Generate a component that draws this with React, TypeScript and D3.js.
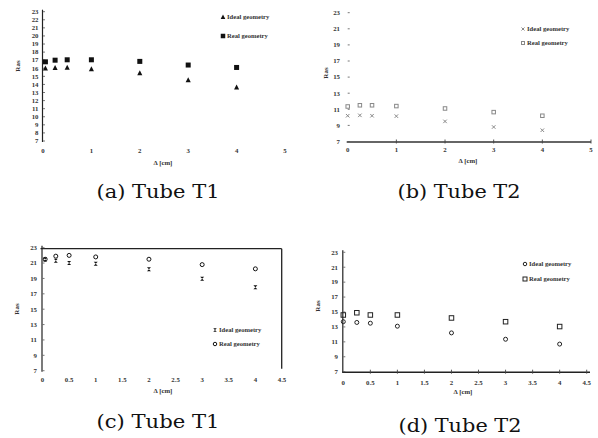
import React from "react";
import * as d3 from "d3";

const W = 598;
const H = 438;

// ---- data ----
const xA = [0.05, 0.25, 0.5, 1, 2, 3, 4];
const aIdeal = [16.0, 16.05, 16.1, 15.9, 15.4, 14.55, 13.65];
const aReal = [16.8, 17.0, 17.05, 17.05, 16.85, 16.4, 16.1];

const xB = [0, 0.25, 0.5, 1, 2, 3, 4];
const bIdeal = [10.2, 10.25, 10.2, 10.15, 9.5, 8.8, 8.4];
const bReal = [11.35, 11.5, 11.5, 11.4, 11.1, 10.65, 10.2];

const xC = [0.05, 0.25, 0.5, 1, 2, 3, 4];
const cIdeal = [21.45, 21.3, 21.0, 20.9, 20.2, 18.95, 17.85];
const cReal = [21.5, 21.9, 22.0, 21.8, 21.5, 20.8, 20.25];

const xD = [0, 0.25, 0.5, 1, 2, 3, 4];
const dIdeal = [13.7, 13.6, 13.5, 13.1, 12.2, 11.35, 10.7];
const dReal = [14.6, 14.9, 14.6, 14.6, 14.2, 13.7, 13.05];

const yTicksAll = [7, 8, 9, 10, 11, 12, 13, 14, 15, 16, 17, 18, 19, 20, 21, 22, 23];
const yTicksOdd = [7, 9, 11, 13, 15, 17, 19, 21, 23];
const xTicksInt = [0, 1, 2, 3, 4, 5];
const xTicksHalf = [0, 0.5, 1, 1.5, 2, 2.5, 3, 3.5, 4, 4.5];

const legendIdeal = "Ideal geometry";
const legendReal = "Real geometry";
const yTitle = "Ras";
const xTitle = "Δ [cm]";
const captions = ["(a) Tube T1", "(b) Tube T2", "(c) Tube T1", "(d) Tube T2"];

const tickFont = "Liberation Serif";
const ink = "#333";

type MarkerKind = "sqFill" | "triFill" | "sqHollow" | "circle" | "hourglass" | "cross";

function Marker({ kind, x, y, color = "#111", s = 5 }: { kind: MarkerKind; x: number; y: number; color?: string; s?: number }) {
  const h = s / 2;
  switch (kind) {
    case "sqFill":
      return <rect x={x - h} y={y - h} width={s} height={s} fill={color} />;
    case "triFill":
      return <path d={`M${x},${y - h - 0.5}L${x + h + 0.3},${y + h}L${x - h - 0.3},${y + h}Z`} fill={color} />;
    case "sqHollow":
      return <rect x={x - h} y={y - h} width={s} height={s} fill="none" stroke={color} strokeWidth={1} />;
    case "circle":
      return <circle cx={x} cy={y} r={h} fill="none" stroke={color} strokeWidth={1} />;
    case "hourglass":
      return <path d={`M${x - h},${y - h}L${x + h},${y - h}L${x - h},${y + h}L${x + h},${y + h}Z`} fill={color} />;
    case "cross":
      return (
        <g stroke={color} strokeWidth={1}>
          <line x1={x - h} y1={y - h} x2={x + h} y2={y + h} />
          <line x1={x - h} y1={y + h} x2={x + h} y2={y - h} />
        </g>
      );
  }
  return null;
}

type PanelCfg = {
  xDomain: [number, number];
  xRange: [number, number];
  yRange: [number, number];
  xTicks: number[];
  yTicks: number[];
  xs: number[];
  ideal: number[];
  real: number[];
  idealKind: MarkerKind;
  realKind: MarkerKind;
  markColor: string;
  idealSize: number;
  realSize: number;
  yLabelX: number;
  xLabelY: number;
  yTitlePos: [number, number];
  xTitlePos: [number, number];
  legendPos: [number, number];
  legendGap: number;
  legendOrder: "idealFirst";
  showYAxis: boolean;
  showXAxis: boolean;
  xAxisWidth: number;
  xAxisColor: string;
  xAxisEnd?: number;
  box?: boolean;
  caption: string;
  captionPos: [number, number];
};

function Panel({ c }: { c: PanelCfg }) {
  const x = d3.scaleLinear().domain(c.xDomain).range(c.xRange);
  const y = d3.scaleLinear().domain([7, 23]).range(c.yRange);
  const x0 = x(0);
  const yBottom = y(7);
  const yTop = y(23);
  const xEnd = c.xAxisEnd ?? x(c.xDomain[1]);
  return (
    <g>
      {c.box && (
        <g stroke="#222" strokeWidth={1.3} fill="none">
          <line x1={x0 - 2} y1={yTop + 1} x2={xEnd} y2={yTop + 1} />
          <line x1={xEnd} y1={yTop + 1} x2={xEnd} y2={yBottom - 2} />
        </g>
      )}
      {c.showYAxis && <line x1={x0 - 0.5} y1={yTop - 2} x2={x0 - 0.5} y2={yBottom + 1} stroke="#222" strokeWidth={1.2} />}
      {c.showXAxis && (
        <line x1={x0 - 1} y1={yBottom + 0.5} x2={xEnd} y2={yBottom + 0.5} stroke={c.xAxisColor} strokeWidth={c.xAxisWidth} />
      )}
      {/* y ticks */}
      {c.yTicks.map((t) => (
        <g key={"y" + t}>
          <line x1={x0} x2={x0 + 2} y1={y(t)} y2={y(t)} stroke="#555" strokeWidth={0.8} />
          <text x={c.yLabelX} y={y(t) + 2.3} textAnchor="end" fontFamily={tickFont} fontWeight="bold" fontSize={6.8} fill={ink}>
            {t}
          </text>
        </g>
      ))}
      {/* x ticks */}
      {c.xTicks.map((t) => (
        <g key={"x" + t}>
          {c.showXAxis && t > 0 && (
            <line x1={x(t)} x2={x(t)} y1={yBottom - 2} y2={yBottom + 2} stroke="#444" strokeWidth={0.9} />
          )}
          <text x={x(t)} y={c.xLabelY} textAnchor="middle" fontFamily={tickFont} fontWeight="bold" fontSize={6.8} fill={ink}>
            {String(t)}
          </text>
        </g>
      ))}
      {/* titles */}
      <text
        transform={`translate(${c.yTitlePos[0]},${c.yTitlePos[1]}) rotate(-90)`}
        textAnchor="middle"
        fontFamily={tickFont}
        fontWeight="bold"
        fontSize={7}
        fill={ink}
      >
        {yTitle}
      </text>
      <text x={c.xTitlePos[0]} y={c.xTitlePos[1]} textAnchor="middle" fontFamily={tickFont} fontWeight="bold" fontSize={6.8} fill={ink}>
        {xTitle}
      </text>
      {/* data */}
      {c.xs.map((v, i) => (
        <Marker key={"r" + i} kind={c.realKind} x={x(v)} y={y(c.real[i])} color={c.markColor} s={c.realSize} />
      ))}
      {c.xs.map((v, i) => (
        <Marker key={"i" + i} kind={c.idealKind} x={x(v)} y={y(c.ideal[i])} color={c.markColor} s={c.idealSize} />
      ))}
      {/* legend */}
      <g>
        <Marker kind={c.idealKind} x={c.legendPos[0]} y={c.legendPos[1]} color={c.markColor} s={c.idealSize - 0.5} />
        <text x={c.legendPos[0] + 4} y={c.legendPos[1] + 2.3} fontFamily={tickFont} fontWeight="bold" fontSize={6.6} fill={ink}>
          {legendIdeal}
        </text>
        <Marker kind={c.realKind} x={c.legendPos[0]} y={c.legendPos[1] + c.legendGap} color={c.markColor} s={c.realSize - 0.5} />
        <text x={c.legendPos[0] + 4} y={c.legendPos[1] + c.legendGap + 2.3} fontFamily={tickFont} fontWeight="bold" fontSize={6.6} fill={ink}>
          {legendReal}
        </text>
      </g>
      <text
        x={c.captionPos[0]}
        y={c.captionPos[1]}
        textAnchor="middle"
        fontFamily="DejaVu Serif"
        fontSize={18}
        fill="#111"
        textLength={123}
        lengthAdjust="spacingAndGlyphs"
      >
        {c.caption}
      </text>
    </g>
  );
}

const panels: PanelCfg[] = [
  {
    xDomain: [0, 5],
    xRange: [43, 285],
    yRange: [141, 11.7],
    xTicks: xTicksInt,
    yTicks: yTicksAll,
    xs: xA,
    ideal: aIdeal,
    real: aReal,
    idealKind: "triFill",
    realKind: "sqFill",
    markColor: "#111",
    idealSize: 4.5,
    realSize: 5,
    yLabelX: 38.5,
    xLabelY: 153,
    yTitlePos: [20, 66],
    xTitlePos: [163, 165],
    legendPos: [223, 17],
    legendGap: 19,
    legendOrder: "idealFirst",
    showYAxis: true,
    showXAxis: false,
    xAxisWidth: 1,
    xAxisColor: "#222",
    caption: captions[0],
    captionPos: [158, 198],
  },
  {
    xDomain: [0, 5],
    xRange: [347.7, 591],
    yRange: [141.5, 12.7],
    xTicks: xTicksInt,
    yTicks: yTicksOdd,
    xs: xB,
    ideal: bIdeal,
    real: bReal,
    idealKind: "cross",
    realKind: "sqHollow",
    markColor: "#888",
    idealSize: 3.5,
    realSize: 3.5,
    yLabelX: 340,
    xLabelY: 152,
    yTitlePos: [328, 73],
    xTitlePos: [468, 163],
    legendPos: [523, 29],
    legendGap: 14,
    legendOrder: "idealFirst",
    showYAxis: false,
    showXAxis: true,
    xAxisWidth: 2.2,
    xAxisColor: "#666",
    caption: captions[1],
    captionPos: [459, 198],
  },
  {
    xDomain: [0, 4.5],
    xRange: [42.5, 282],
    yRange: [370.7, 247.7],
    xTicks: xTicksHalf,
    yTicks: yTicksOdd,
    xs: xC,
    ideal: cIdeal,
    real: cReal,
    idealKind: "hourglass",
    realKind: "circle",
    markColor: "#111",
    idealSize: 4,
    realSize: 4,
    yLabelX: 37,
    xLabelY: 382,
    yTitlePos: [19, 309],
    xTitlePos: [163, 393],
    legendPos: [215, 330],
    legendGap: 14,
    legendOrder: "idealFirst",
    showYAxis: true,
    showXAxis: false,
    xAxisWidth: 1,
    xAxisColor: "#222",
    xAxisEnd: 281.7,
    box: true,
    caption: captions[2],
    captionPos: [158, 428],
  },
  {
    xDomain: [0, 4.5],
    xRange: [343.3, 586.7],
    yRange: [371.7, 252.3],
    xTicks: xTicksHalf,
    yTicks: yTicksOdd,
    xs: xD,
    ideal: dIdeal,
    real: dReal,
    idealKind: "circle",
    realKind: "sqHollow",
    markColor: "#222",
    idealSize: 4,
    realSize: 4.5,
    yLabelX: 338,
    xLabelY: 384.5,
    yTitlePos: [320, 306],
    xTitlePos: [463, 394],
    legendPos: [525, 264],
    legendGap: 15,
    legendOrder: "idealFirst",
    showYAxis: true,
    showXAxis: true,
    xAxisWidth: 1.6,
    xAxisColor: "#222",
    xAxisEnd: 590,
    caption: captions[3],
    captionPos: [460, 432],
  },
];

export default function App() {
  return (
    <svg
      width={W}
      height={H}
      viewBox={`0 0 ${W} ${H}`}
      style={{ position: "absolute", left: 0, top: 0, background: "#fff", display: "block" }}
    >
      <rect width={W} height={H} fill="#fff" />
      {panels.map((p, i) => (
        <Panel key={i} c={p} />
      ))}
    </svg>
  );
}
